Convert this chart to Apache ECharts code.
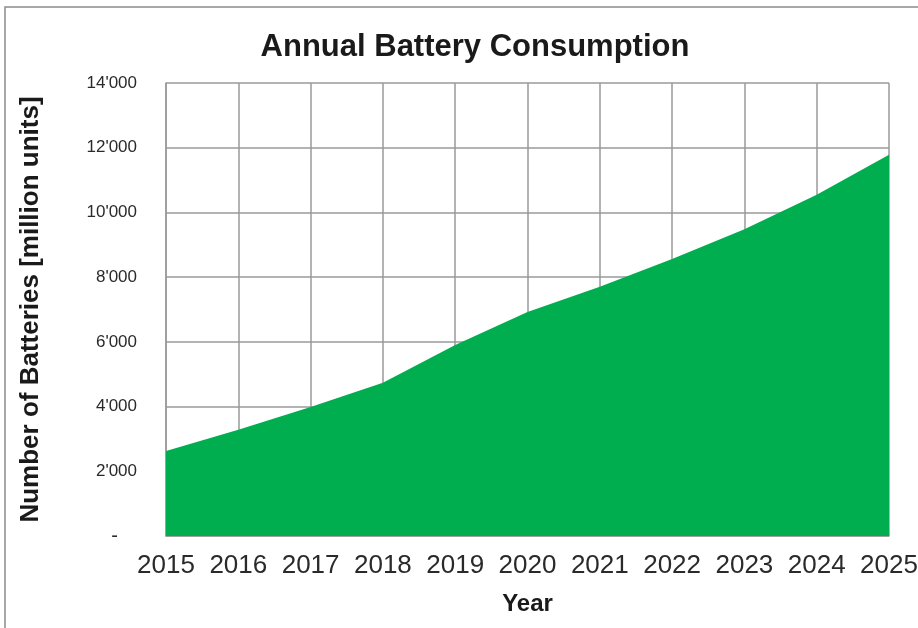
<!DOCTYPE html>
<html>
<head>
<meta charset="utf-8">
<script src="https://cdn.jsdelivr.net/npm/echarts@6/dist/echarts.min.js"></script>
<style>
  html, body { margin: 0; padding: 0; background: #fff; }
  #chart { width: 918px; height: 628px; }
</style>
</head>
<body>
<div id="chart"></div>
<script>
// years on the x axis
const years = ['2015', '2016', '2017', '2018', '2019', '2020', '2021', '2022', '2023', '2024', '2025'];
// annual battery consumption, million units
const batteries = [2630, 3280, 3990, 4740, 5900, 6920, 7700, 8560, 9480, 10550, 11780];

const chart = echarts.init(document.getElementById('chart'));

function fmtThousands(v) {
  if (v === 0) return '{dash|-}';
  return String(v).replace(/\B(?=(\d{3})+(?!\d))/g, "'");
}

const option = {
  backgroundColor: '#fff',
  animation: false,
  textStyle: { fontFamily: 'Liberation Sans, Arial, sans-serif' },
  graphic: [{
    type: 'rect',
    shape: { x: 5, y: 7, width: 930, height: 640 },
    style: { fill: 'none', stroke: '#8c8c8c', lineWidth: 1.5 },
    silent: true
  }],
  title: {
    text: 'Annual Battery Consumption',
    left: 470,
    top: 27,
    textAlign: 'center',
    textStyle: { fontSize: 31, fontWeight: 'bold', color: '#1a1a1a' }
  },
  grid: { left: 166, right: 29, top: 83, bottom: 92, outerBoundsMode: 'none' },
  xAxis: {
    type: 'category',
    data: years,
    boundaryGap: false,
    name: 'Year',
    nameLocation: 'middle',
    nameGap: 56,
    nameTextStyle: { fontSize: 24, fontWeight: 'bold', color: '#1a1a1a' },
    axisLine: { show: true, lineStyle: { color: '#9a9a9a', width: 1.5 } },
    axisTick: { show: false },
    axisLabel: { fontSize: 26, color: '#2a2a2a', margin: 17, interval: 0, hideOverlap: false },
    splitLine: { show: true, interval: 0, lineStyle: { color: '#9a9a9a', width: 1.5 } }
  },
  yAxis: {
    type: 'value',
    min: 0,
    max: 14000,
    interval: 2000,
    name: 'Number of Batteries [million units]',
    nameLocation: 'middle',
    nameGap: 122,
    nameTextStyle: { fontSize: 26, fontWeight: 'bold', color: '#1a1a1a' },
    axisLine: { show: true, lineStyle: { color: '#9a9a9a', width: 1.5 } },
    axisTick: { show: false },
    axisLabel: {
      fontSize: 17,
      color: '#2a2a2a',
      margin: 29,
      formatter: fmtThousands,
      rich: { dash: { fontSize: 20, color: '#2a2a2a', padding: [0, 19, 0, 0] } }
    },
    splitLine: { show: true, lineStyle: { color: '#9a9a9a', width: 1.5 } }
  },
  series: [{
    type: 'line',
    data: batteries,
    symbol: 'none',
    lineStyle: { width: 0 },
    areaStyle: { color: '#00ad4f', opacity: 1 },
    z: 3
  }]
};

chart.setOption(option);
window.addEventListener('resize', function () { chart.resize(); });
</script>
</body>
</html>
